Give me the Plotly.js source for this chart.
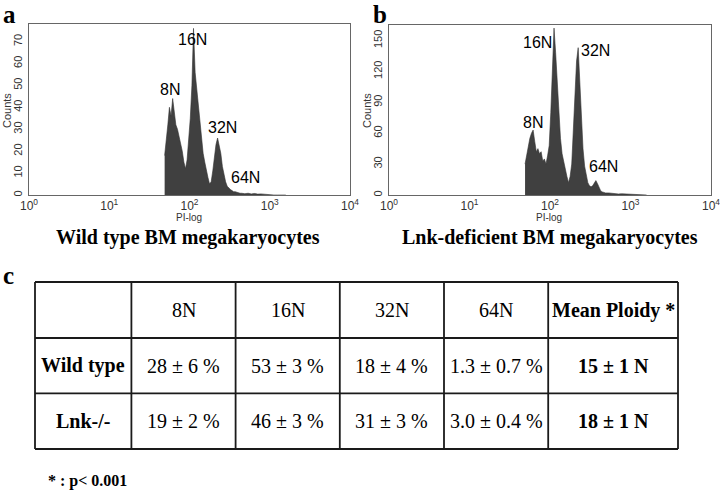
<!DOCTYPE html>
<html>
<head>
<meta charset="utf-8">
<script src="https://cdn.plot.ly/plotly-3.0.1.min.js"></script>
<style>html,body{margin:0;padding:0;background:#fff;}#chart{width:720px;height:491px;}</style>
</head>
<body>
<div id="chart"></div>
<script>
// ---- Data ----
const piValues = [49.0, 51.3, 53.7, 56.2, 58.9, 61.7, 64.6, 67.6, 70.8, 74.1,
  77.6, 81.3, 85.1, 89.1, 93.3, 97.7, 102.3, 107.2, 112.2, 117.5,
  123.0, 128.8, 134.9, 141.3, 147.9, 154.9, 162.2, 169.8, 177.8, 186.2,
  195.0, 204.2, 213.8, 223.9, 234.4, 245.5, 257.0, 269.2, 281.8, 295.1,
  309.0, 323.6, 338.8, 354.8, 371.5, 389.0, 407.4, 426.6, 446.7,
  489.8, 537.0, 588.8, 645.7, 707.9, 776.2, 851.1, 933.3, 1023,
  1122, 1259, 1413, 1585];

const wildTypeCounts = [18, 24, 32, 40, 36, 44, 38, 32, 30, 27,
  24, 20, 15, 12, 16, 25, 35, 50, 76, 56,
  48, 40, 32, 25, 19, 15, 11, 8, 5, 6,
  11, 18, 23, 26, 23, 19, 13, 9, 6, 4,
  3, 2.5, 2, 1.5, 1.5, 1.2, 1, 0.8, 0.8,
  0.6, 0.8, 0.5, 0.7, 0.4, 0.5, 0.3, 0.2, 0,
  0, 0, 0, 0];

const lnkCounts = [30, 38, 48, 55, 60, 63, 52, 42, 45, 40,
  42, 33, 35, 30, 38, 48, 80, 120, 162, 138,
  110, 80, 55, 40, 32, 25, 18, 12, 18, 30,
  60, 95, 130, 143, 110, 72, 45, 28, 18, 12,
  9, 8, 9, 12, 14, 11, 7, 4, 3,
  2, 2, 1.5, 1.5, 1, 1.2, 1, 0.8, 0.8,
  0.6, 0.5, 0.4, 0];

const xTickVals = [1, 10, 100, 1000, 10000];
const xTickText = ['10<sup>0</sup>', '10<sup>1</sup>', '10<sup>2</sup>', '10<sup>3</sup>', '10<sup>4</sup>'];
const wtYTicks = [0, 10, 20, 30, 40, 50, 60, 70];
const lnkYTicks = [0, 30, 60, 90, 120, 150];
const peakLabels = ['8N', '16N', '32N', '64N'];

const tableHeader = ['', '8N', '16N', '32N', '64N', 'Mean Ploidy *'];
const wildTypeRow = ['Wild type', '28 ± 6 %', '53 ± 3 %', '18 ± 4 %', '1.3 ± 0.7 %', '15 ± 1 N'];
const lnkRow = ['Lnk-/-', '19 ± 2 %', '46 ± 3 %', '31 ± 3 %', '3.0 ± 0.4 %', '18 ± 1 N'];

// ---- Layout helpers ----
const W = 720, H = 491;
const fx = p => p / W;
const fy = p => 1 - p / H;
const SANS = 'Liberation Sans, Arial, sans-serif';
const SERIF = 'Liberation Serif, Times New Roman, serif';

const histStyle = {
  mode: 'lines', fill: 'tozeroy', fillcolor: '#404040',
  line: {color: '#333333', width: 0.6}, hoverinfo: 'skip', showlegend: false
};

const traces = [
  Object.assign({x: piValues, y: wildTypeCounts, xaxis: 'x', yaxis: 'y'}, histStyle),
  Object.assign({x: piValues, y: lnkCounts, xaxis: 'x2', yaxis: 'y2'}, histStyle)
];

function xAxis(domain, anchor) {
  return {
    domain: domain, type: 'log', range: [0, 4], tickvals: xTickVals, ticktext: xTickText,
    anchor: anchor, ticklabeloverflow: 'allow',
    showline: true, mirror: true, linecolor: '#666', linewidth: 1, showgrid: false,
    zeroline: false, ticks: '', fixedrange: true, ticklabelstandoff: 0,
    tickfont: {family: SANS, size: 12, color: '#333'}
  };
}
function yAxis(domain, range, ticks, anchor) {
  return {
    domain: domain, range: range, tickvals: ticks, tickangle: -90, anchor: anchor,
    showline: true, mirror: true, linecolor: '#666', linewidth: 1, showgrid: false,
    zeroline: false, ticks: '', fixedrange: true, ticklabelstandoff: 2,
    tickfont: {family: SANS, size: 11, color: '#333'}
  };
}

const annotations = [];
function addText(text, x, y, font, opts) {
  annotations.push(Object.assign({
    text: text, x: fx(x), y: fy(y), xref: 'paper', yref: 'paper',
    showarrow: false, xanchor: 'center', yanchor: 'middle', font: font
  }, opts || {}));
}

// panel letters
addText('<b>a</b>', 9, 0, {family: SERIF, size: 25, color: '#000'}, {yanchor: 'top', borderpad: 0});
addText('<b>b</b>', 380, 0, {family: SERIF, size: 25, color: '#000'}, {yanchor: 'top', borderpad: 0});
addText('<b>c</b>', 8, 275, {family: SERIF, size: 25, color: '#000'});

// axis titles
addText('Counts', 7, 111, {family: SANS, size: 11, color: '#333'}, {textangle: -90});
addText('Counts', 367, 111, {family: SANS, size: 11, color: '#333'}, {textangle: -90});
addText('PI-log', 189, 218, {family: SANS, size: 10, color: '#333'}, {borderpad: 0});
addText('PI-log', 549, 218, {family: SANS, size: 10, color: '#333'}, {borderpad: 0});

// subtitles
addText('<b>Wild type BM megakaryocytes</b>', 188, 237, {family: SERIF, size: 20, color: '#000'}, {borderpad: 0});
addText('<b>Lnk-deficient BM megakaryocytes</b>', 550, 237, {family: SERIF, size: 20, color: '#000'}, {borderpad: 0});

// peak labels
const peakFont = {family: SANS, size: 16, color: '#000'};
const wtPeakPos = [[170, 89], [192, 39], [222, 128], [245, 177]];
const lnkPeakPos = [[533, 123], [537, 42], [595, 51], [603, 167]];
peakLabels.forEach((t, i) => {
  addText(t, wtPeakPos[i][0], wtPeakPos[i][1], peakFont);
  addText(t, lnkPeakPos[i][0], lnkPeakPos[i][1], peakFont);
});

// ---- Table c ----
const colEdges = [35, 131.4, 235.6, 339.8, 444, 548.2, 678];
const rowEdges = [282, 338, 393.3, 449];
const shapes = [];
const lineStyle = {color: '#1a1a1a', width: 1.8};
colEdges.forEach(cx => shapes.push({type: 'line', xref: 'paper', yref: 'paper',
  x0: fx(cx), x1: fx(cx), y0: fy(rowEdges[0]), y1: fy(rowEdges[3]), line: lineStyle}));
rowEdges.forEach(ry => shapes.push({type: 'line', xref: 'paper', yref: 'paper',
  x0: fx(colEdges[0]), x1: fx(colEdges[6]), y0: fy(ry), y1: fy(ry), line: lineStyle}));

const rows = [tableHeader, wildTypeRow, lnkRow];
rows.forEach((row, r) => {
  const cy = (rowEdges[r] + rowEdges[r + 1]) / 2;
  row.forEach((val, c) => {
    if (!val) return;
    const cx = (colEdges[c] + colEdges[c + 1]) / 2;
    const bold = (c === 0 || c === 5);
    addText(bold ? '<b>' + val + '</b>' : val, cx, cy, {family: SERIF, size: 20, color: '#000'});
  });
});

addText('<b>* : p< 0.001</b>', 87, 481, {family: SERIF, size: 16, color: '#000'});

const layout = {
  width: W, height: H, margin: {l: 0, r: 0, t: 0, b: 0},
  paper_bgcolor: '#fff', plot_bgcolor: '#fff', showlegend: false,
  xaxis: xAxis([fx(29), fx(350)], 'y'),
  yaxis: yAxis([fy(195), fy(24)], [0, 78], wtYTicks, 'x'),
  xaxis2: xAxis([fx(389), fx(711)], 'y2'),
  yaxis2: yAxis([fy(195), fy(25)], [0, 165], lnkYTicks, 'x2'),
  annotations: annotations, shapes: shapes
};

Plotly.newPlot('chart', traces, layout, {displayModeBar: false, staticPlot: true});
</script>
</body>
</html>
